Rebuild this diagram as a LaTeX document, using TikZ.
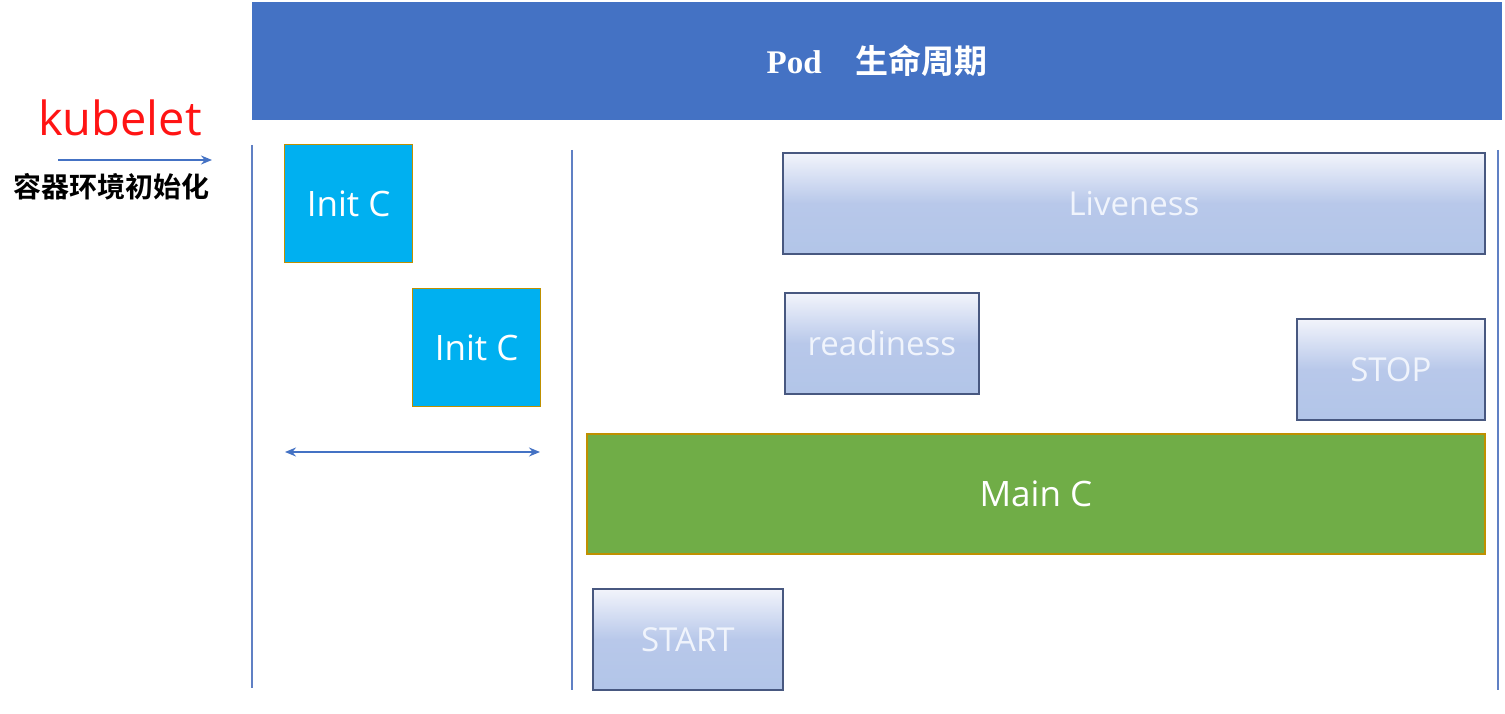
\documentclass[tikz,border=0pt]{standalone}
\usepackage{fontspec}
\setmainfont{Open Sans}
\newfontfamily\cjkbold[BoldFont={Noto Sans CJK SC Bold}]{Noto Sans CJK SC}
\newfontfamily\podserif{Liberation Serif}
\usetikzlibrary{arrows.meta, positioning}
\usepackage{xcolor}
\definecolor{podblue}{RGB}{68,114,196}
\definecolor{lineblue}{RGB}{96,128,196}
\definecolor{initcyan}{RGB}{0,176,240}
\definecolor{goldborder}{RGB}{191,144,0}
\definecolor{maingreen}{RGB}{112,173,71}
\definecolor{probeborder}{RGB}{72,88,128}
\definecolor{probetop}{RGB}{242,244,251}
\definecolor{probemid}{RGB}{184,200,234}
\definecolor{probebottom}{RGB}{178,197,232}
\definecolor{probetext}{RGB}{240,244,252}
\definecolor{kubered}{RGB}{255,20,20}

\begin{document}
\begin{tikzpicture}[
    x=1pt, y=-1pt,
    titlebar/.style={rectangle, fill=podblue, anchor=north west, inner sep=0pt, minimum width=1250pt, minimum height=118pt},
    initbox/.style={rectangle, draw=goldborder, fill=initcyan, line width=1.2pt, anchor=north west, inner sep=0pt, minimum width=128pt, minimum height=118pt, text=white, font=\fontsize{35}{40}\selectfont},
    mainbox/.style={rectangle, draw=goldborder, fill=maingreen, line width=1.8pt, anchor=north west, inner sep=0pt, text=white, font=\fontsize{35}{40}\selectfont},
    probebox/.style={rectangle, draw=probeborder, line width=1.8pt, top color=probetop, bottom color=probebottom, middle color=probemid, anchor=north west, inner sep=0pt, minimum height=101pt, text=probetext, font=\fontsize{33}{40}\selectfont},
    phase/.style={lineblue, line width=1.5pt},
    arrow/.style={-{Stealth[length=11pt, width=9pt]}, podblue, line width=1.6pt}
]
\useasboundingbox (0,0) rectangle (1505,714);

% Title bar
\node[titlebar] (pod) at (252,2) {};
\node[text=white, font=\fontsize{33}{40}\selectfont\bfseries] (podtitle) at (pod.center) {{\podserif Pod}\hspace{34pt}{\cjkbold 生命周期}};

% kubelet side
\node[text=kubered, font=\fontsize{47}{50}\selectfont] (kubelet) at (120,118) {kubelet};
\coordinate (kstart) at (58,160);
\coordinate (kend) at (212,160);
\draw[arrow] (kstart) -- (kend);
\node[font=\fontsize{28}{30}\selectfont\cjkbold\bfseries] (envinit) at (111,187) {容器环境初始化};

% Phase separators
\coordinate (p1top) at (252,145);
\coordinate (p1bot) at (252,688);
\coordinate (p2top) at (572,150);
\coordinate (p2bot) at (572,690);
\coordinate (p3top) at (1498,150);
\coordinate (p3bot) at (1498,690);
\draw[phase] (p1top) -- (p1bot);
\draw[phase] (p2top) -- (p2bot);
\draw[phase] (p3top) -- (p3bot);

% Init containers
\node[initbox] (init1) at (284,144) {Init C};
\node[initbox] (init2) at (412,288) {Init C};
\coordinate (spanl) at (285,452);
\coordinate (spanr) at (540,452);
\draw[arrow, {Stealth[length=11pt, width=9pt]}-{Stealth[length=11pt, width=9pt]}] (spanl) -- (spanr);

% Probes and hooks
\node[probebox, minimum width=702pt] (liveness) at (782,152) {Liveness};
\node[probebox, minimum width=194pt] (readiness) at (784,292) {readiness};
\node[probebox, minimum width=188pt] (stop) at (1296,318) {STOP};

% Main container
\node[mainbox, minimum width=898pt, minimum height=120pt] (mainc) at (586,433) {Main C};
\node[probebox, minimum width=190pt] (start) at (592,588) {START};
\end{tikzpicture}
\end{document}
